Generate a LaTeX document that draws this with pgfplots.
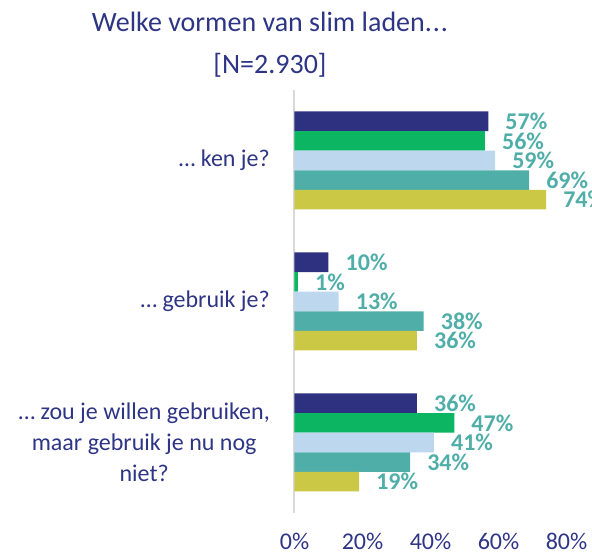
\documentclass[border=0pt]{standalone}
\usepackage{fontspec}
\setmainfont{Carlito}
\usepackage{pgfplots}
\pgfplotsset{compat=1.18}
\definecolor{cnavy}{HTML}{2E3080}
\definecolor{cgreen}{HTML}{0BB561}
\definecolor{clblue}{HTML}{BDD7EE}
\definecolor{cteal}{HTML}{50AEA9}
\definecolor{cyellow}{HTML}{CBC846}
\definecolor{ctext}{HTML}{2E3585}
\definecolor{cgrid}{HTML}{D9D9D9}
\begin{document}
\begin{tikzpicture}
\path[use as bounding box] (-294.5pt,-40pt) rectangle (297.5pt,513pt);
\begin{axis}[
  at={(0,0)}, anchor=south west,
  scale only axis, width=272pt, height=423pt,
  xmin=0, xmax=80, ymin=-0.5, ymax=2.5,
  xbar, bar width=19.6pt,
  axis y line*=left, axis x line*=bottom,
  y axis line style={cgrid, line width=2pt, -},
  x axis line style={draw=none},
  major tick length=0pt,
  xtick={0,20,40,60,80},
  xticklabels={0\%,20\%,40\%,60\%,80\%},
  xticklabel style={anchor=base, yshift=-37pt, inner sep=0pt, font=\fontsize{24}{28}\selectfont, text=ctext},
  ytick={0,1,2},
  yticklabels={{… zou je willen gebruiken,\\maar gebruik je nu nog\\niet?},{… gebruik je?},{… ken je?}},
  yticklabel style={anchor=east, align=center, xshift=-24.5pt, inner sep=0pt, font=\fontsize{24}{31}\selectfont, text=ctext},
  title={Welke vormen van slim laden.\kern1pt.\kern1pt.\\{[N=2.930]}},
  title style={at={(axis description cs:0,1)}, anchor=south, xshift=-24.5pt, yshift=6pt, inner sep=0pt, align=center, font=\fontsize{28}{42}\selectfont, text=ctext},
  /pgf/number format/assume math mode=true,
  nodes near coords={\pgfmathprintnumber{\pgfplotspointmeta}\%},
  nodes near coords style={anchor=west, inner sep=0pt, xshift=17pt, font=\fontsize{24}{28}\selectfont\bfseries, text=cteal},
  point meta=x,
]
\addplot[fill=cnavy, draw=none, bar shift=39.2pt] coordinates {(57,2) (10,1) (36,0)};
\addplot[fill=cgreen, draw=none, bar shift=19.6pt] coordinates {(56,2) (1,1) (47,0)};
\addplot[fill=clblue, draw=none, bar shift=0pt] coordinates {(59,2) (13,1) (41,0)};
\addplot[fill=cteal, draw=none, bar shift=-19.6pt] coordinates {(69,2) (38,1) (34,0)};
\addplot[fill=cyellow, draw=none, bar shift=-39.2pt] coordinates {(74,2) (36,1) (19,0)};
\end{axis}
\end{tikzpicture}
\end{document}
